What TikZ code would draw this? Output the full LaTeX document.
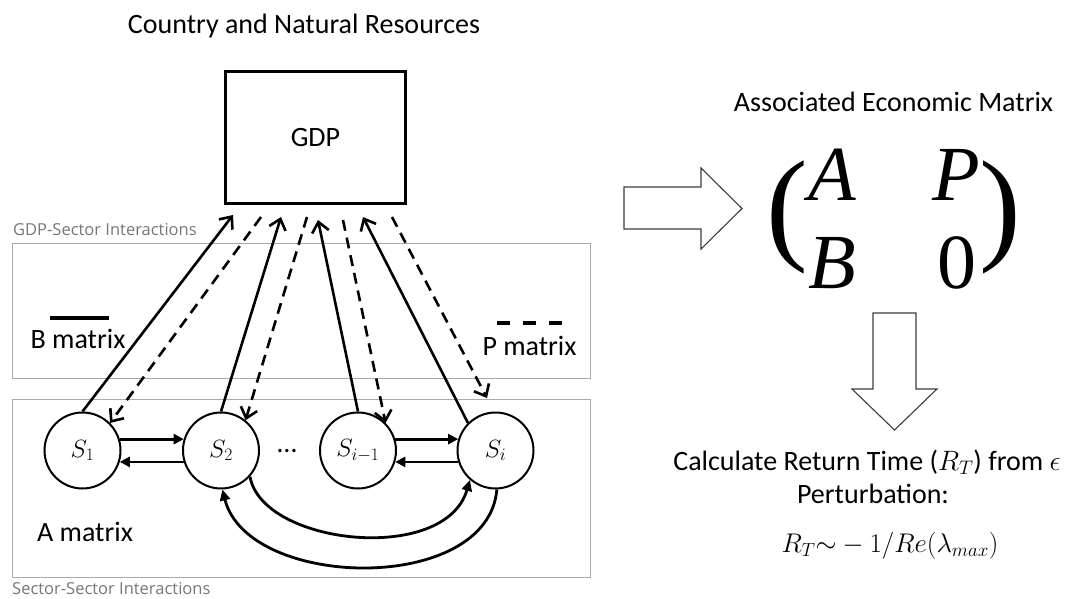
\RequirePackage{fix-cm}
\documentclass[tikz,border=0pt]{standalone}
\usepackage{fontspec}
\setmainfont{Carlito}
\newfontfamily\graylabelfont{Open Sans}
\newfontfamily\matfont{Liberation Serif}
\usetikzlibrary{arrows.meta,calc}
\definecolor{labgray}{RGB}{118,118,118}
\definecolor{panelgray}{RGB}{170,170,170}
\definecolor{blockgray}{RGB}{60,60,60}
\begin{document}
\begin{tikzpicture}[x=1pt,y=1pt,
  lbl/.style={inner sep=0pt, anchor=base, font=\fontsize{28}{32}\selectfont},
  graylbl/.style={inner sep=0pt, anchor=base west, text=labgray, font=\graylabelfont\fontsize{16.5}{20}\selectfont},
  sector/.style={circle, draw, line width=2pt, minimum size=76pt, inner sep=0pt, font=\fontsize{25}{30}\selectfont},
  gdpbox/.style={draw, line width=3.2pt, minimum width=180pt, minimum height=132pt, inner sep=0pt, font=\fontsize{28}{32}\selectfont},
  panel/.style={draw=panelgray, line width=1pt},
  barrow/.style={line width=2.6pt, -{Straight Barb[length=10pt,width=17pt]}},
  parrow/.style={barrow, dash pattern=on 11pt off 7pt},
  harrow/.style={line width=2.8pt, -{Triangle[length=10pt,width=10pt]}},
  carrow/.style={line width=2.8pt, -{Triangle[length=11pt,width=10pt]}},
  blockarrow/.style={draw=blockgray, line width=1.1pt, fill=white},
  mathbig/.style={inner sep=0pt, anchor=base, font=\matfont\fontsize{78}{84}\selectfont},
  paren/.style={inner sep=0pt, font=\matfont\fontsize{125}{130}\selectfont},
  legendline/.style={line width=3.2pt}
]
\useasboundingbox (0,0) rectangle (1069,-598);

% panels
\draw[panel] (12,-243) rectangle (590,-378);
\draw[panel] (12,-399) rectangle (590,-577);
\node[graylbl] (gsi) at (13,-235) {GDP-Sector Interactions};
\node[graylbl] (ssi) at (12,-594) {Sector-Sector Interactions};

% title and GDP
\node[lbl] (title) at (304,-33) {Country and Natural Resources};
\node[gdpbox] (gdp) at (315.5,-137.5) {GDP};

% sectors
\node[sector] (s1) at (82.5,-450.5) {$S_1$};
\node[sector] (s2) at (221,-450.5) {$S_2$};
\node[sector] (s3) at (358,-450.5) {$S_{i-1}$};
\node[sector] (s4) at (495.5,-450.5) {$S_i$};
\node[lbl] (dots) at (287,-452) {…};

% GDP end points
\coordinate (g1) at (233,-215);
\coordinate (g2) at (261,-217);
\coordinate (g3) at (281,-217);
\coordinate (g4) at (307,-217);
\coordinate (g5) at (318,-220);
\coordinate (g6) at (343,-220);
\coordinate (g7) at (363,-217);
\coordinate (g8) at (392,-217);
\coordinate (p4) at (487,-398);

\draw[barrow] (s1.north) -- (g1);
\draw[parrow] (g2) -- (s1.45);
\draw[barrow] (s2.north) -- (g3);
\draw[parrow] (g4) -- (s2.51);
\draw[barrow] (s3.north) -- (g5);
\draw[parrow] (g6) -- (s3.45);
\draw[barrow] (s4.135) -- (g7);
\draw[parrow] (g8) -- (p4);

% sector-sector arrows
\draw[harrow] (s1.17) -- (s2.163);
\draw[harrow] (s2.197) -- (s1.343);
\draw[harrow] (s3.17) -- (s4.163);
\draw[harrow] (s4.197) -- (s3.343);
\draw[carrow] (s2.-42) .. controls (262,-545) and (445,-565) .. (s4.-131);
\draw[carrow] (s4.-88) .. controls (488,-595) and (248,-590) .. (s2.-88);

% legends
\draw[legendline] (50,-318) -- (109,-318);
\node[lbl] (bm) at (78,-348) {B matrix};
\draw[legendline, dash pattern=on 13pt off 13pt] (497,-323) -- (562,-323);
\node[lbl] (pm) at (529.5,-355) {P matrix};
\node[lbl] (am) at (85,-541) {A matrix};

% right side
\node[lbl] (assoc) at (893.5,-111) {Associated Economic Matrix};
\draw[blockarrow] (624,-187) -- (701,-187) -- (701,-168) -- (742,-208.5) -- (701,-249) -- (701,-229) -- (624,-229) -- cycle;
\node[paren, anchor=west] (lp) at (766,-217.5) {(};
\node[paren, anchor=east] (rp) at (1021.5,-217.5) {)};
\node[mathbig] (mA) at (832,-200) {\itshape A};
\node[mathbig] (mP) at (956,-200) {\itshape P};
\node[mathbig] (mB) at (832,-288) {\itshape B};
\node[mathbig] (m0) at (957,-288) {0};
\draw[blockarrow] (873,-313) -- (916,-313) -- (916,-389) -- (937,-389) -- (894.5,-430) -- (852,-389) -- (873,-389) -- cycle;
\node[lbl] (calc) at (867,-470) {Calculate Return Time ($R_T$) from $\epsilon$};
\node[lbl] (pert) at (873,-503) {Perturbation:};
\node[lbl, font=\fontsize{27}{30}\selectfont] (formula) at (890,-552) {$R_T{\sim}-1/Re(\lambda_{max})$};
\end{tikzpicture}
\end{document}
